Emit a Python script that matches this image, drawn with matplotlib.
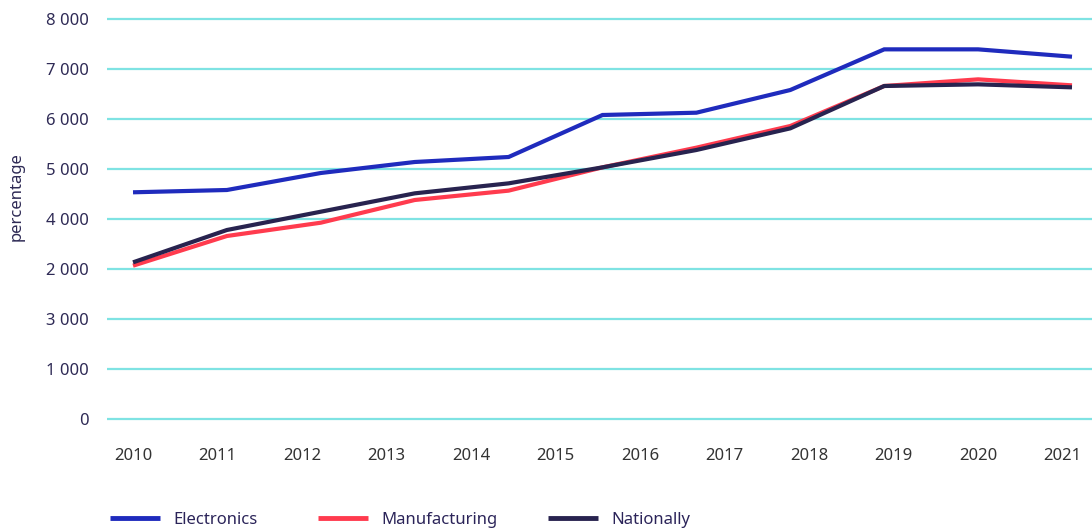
import numpy as np
import matplotlib
matplotlib.use("Agg")
import matplotlib.pyplot as plt

plt.rcParams['font.family'] = ['Noto Sans', 'DejaVu Sans']

# Data
series_names = ["Electronics", "Manufacturing", "Nationally"]
electronics = [4534, 4580, 4920, 5140, 5240, 6080, 6126, 6580, 7393, 7393, 7246]
manufacturing = [3066, 3660, 3926, 4380, 4567, 5033, 5427, 5860, 6660, 6793, 6673]
nationally = [3133, 3780, 4146, 4513, 4713, 5033, 5380, 5813, 6660, 6693, 6633]
year_labels = ["2010", "2011", "2012", "2013", "2014", "2015", "2016",
               "2017", "2018", "2019", "2020", "2021"]
y_ticks = [0, 1000, 2000, 3000, 4000, 5000, 6000, 7000, 8000]
y_tick_labels = ["0", "1 000", "3 000", "2 000", "4 000", "5 000", "6 000", "7 000", "8 000"]

colors = ["#1f2bbd", "#ff3b4e", "#28234f"]

W, H = 1092, 530
fig = plt.figure(figsize=(W / 100, H / 100), dpi=100)
ax = fig.add_axes([107 / W, (H - 424) / H, (W - 107) / W, 410 / H])

x = np.arange(len(electronics))
for vals, name, c in zip([electronics, manufacturing, nationally], series_names, colors):
    ax.plot(x, vals, color=c, lw=3.0, label=name, solid_capstyle='butt', solid_joinstyle='miter')

ax.set_ylim(-100, 8100)
ax.set_xlim(-0.277, 10.213)
ax.set_yticks(y_ticks)
ax.set_yticklabels(y_tick_labels)
ax.set_xticks(np.linspace(0, 9.9, len(year_labels)))
ax.set_xticklabels(year_labels)

ax.grid(axis='y', color='#7fe3e3', lw=1.6)
ax.set_axisbelow(True)
for s in ax.spines.values():
    s.set_visible(False)
ax.tick_params(axis='y', length=0, pad=13, labelsize=12, labelcolor='#2e2a55')
ax.tick_params(axis='x', length=0, pad=17, labelsize=12, labelcolor='#333333')

fig.text(17 / W, 1 - 197 / H, "percentage", rotation=90, ha='center', va='center',
         fontsize=12, color='#2e2a55')

handles, labels = ax.get_legend_handles_labels()
leg_x = [110, 318, 548]
for h, lab, lx in zip(handles, labels, leg_x):
    leg = fig.legend([h], [lab], loc='center left', bbox_to_anchor=(lx / W, 1 - 520 / H),
                     frameon=False, fontsize=12, handlelength=3.0, handletextpad=0.78,
                     borderaxespad=0, borderpad=0)
    for t in leg.get_texts():
        t.set_color('#2b2459')
    for l in leg.get_lines():
        l.set_linewidth(3.5)

fig.savefig("out.png", dpi=100)
